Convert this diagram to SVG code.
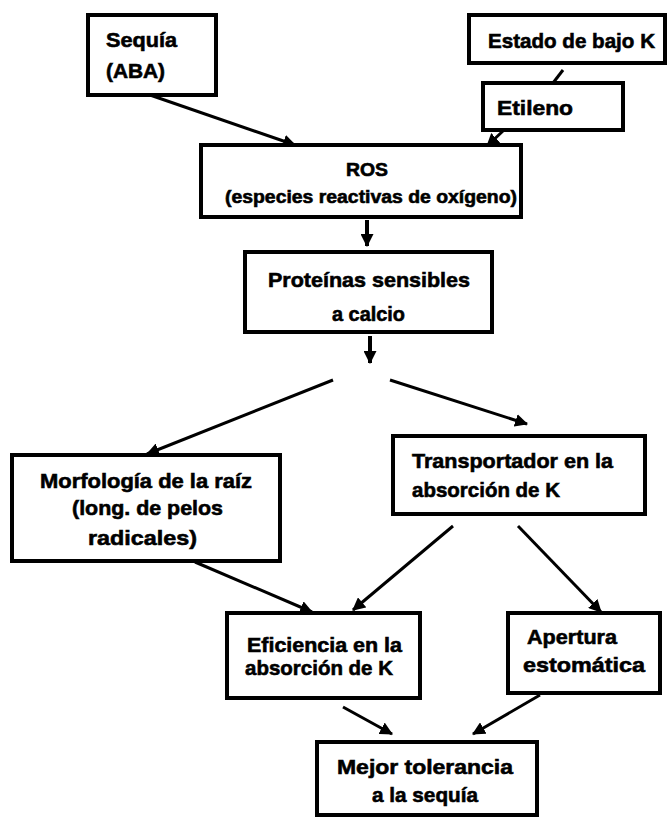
<svg xmlns="http://www.w3.org/2000/svg" width="667" height="817" viewBox="0 0 667 817">
<style>
.box{fill:#fff;stroke:#000;stroke-width:4}
.t{font-family:"Liberation Sans",Arial,sans-serif;font-weight:bold;font-size:21px;fill:#000;stroke:#000;stroke-width:0.6}
.s{font-size:18px}
.c{stroke:#000;stroke-width:3;fill:none}
.v{stroke-width:4}
</style>
<defs>
<marker id="ah" viewBox="0 0 12 12" refX="11" refY="6" markerWidth="13" markerHeight="13" markerUnits="userSpaceOnUse" orient="auto">
<path d="M0,0 L12,6 L0,12 z" fill="#000"/>
</marker>
</defs>
<rect width="667" height="817" fill="#fff"/>
<g id="connectors">
<line class="c" x1="150" y1="95" x2="295" y2="145" marker-end="url(#ah)"/>
<line class="c" x1="563" y1="70" x2="553" y2="83"/>
<line class="c" x1="503" y1="131" x2="487" y2="146" marker-end="url(#ah)"/>
<line class="c v" x1="367" y1="220" x2="367" y2="246" marker-end="url(#ah)"/>
<line class="c v" x1="370" y1="336" x2="370" y2="363" marker-end="url(#ah)"/>
<line class="c" x1="333" y1="380" x2="147" y2="454" marker-end="url(#ah)"/>
<line class="c" x1="390" y1="380" x2="527" y2="424" marker-end="url(#ah)"/>
<line class="c" x1="195" y1="562" x2="312" y2="612" marker-end="url(#ah)"/>
<line class="c" x1="453" y1="526" x2="353" y2="610" marker-end="url(#ah)"/>
<line class="c" x1="518" y1="526" x2="601" y2="612" marker-end="url(#ah)"/>
<line class="c" x1="343" y1="707" x2="392" y2="734" marker-end="url(#ah)"/>
<line class="c" x1="540" y1="695" x2="473" y2="734" marker-end="url(#ah)"/>
</g>
<g id="sequia">
<rect class="box" x="88" y="15" width="128" height="80"/>
<text class="t" x="106" y="47" textLength="71" lengthAdjust="spacingAndGlyphs">Sequía</text>
<text class="t" x="106" y="78" textLength="59" lengthAdjust="spacingAndGlyphs">(ABA)</text>
</g>
<g id="estado">
<rect class="box" x="469" y="15" width="196" height="48"/>
<text class="t" x="488" y="48" textLength="167" lengthAdjust="spacingAndGlyphs">Estado de bajo K</text>
</g>
<g id="etileno">
<rect class="box" x="483" y="83" width="140" height="47"/>
<text class="t" x="497" y="115" textLength="76" lengthAdjust="spacingAndGlyphs">Etileno</text>
</g>
<g id="ros">
<rect class="box" x="201" y="145" width="320" height="72"/>
<text class="t s" x="346" y="176" textLength="42" lengthAdjust="spacingAndGlyphs">ROS</text>
<text class="t s" x="225" y="203" textLength="292" lengthAdjust="spacingAndGlyphs">(especies reactivas de oxígeno)</text>
</g>
<g id="proteinas">
<rect class="box" x="245" y="252" width="247" height="80"/>
<text class="t" x="268" y="287" textLength="202" lengthAdjust="spacingAndGlyphs">Proteínas sensibles</text>
<text class="t" x="332" y="321" textLength="73" lengthAdjust="spacingAndGlyphs">a calcio</text>
</g>
<g id="morfologia">
<rect class="box" x="12" y="455" width="268" height="106"/>
<text class="t" x="40" y="488" textLength="212" lengthAdjust="spacingAndGlyphs">Morfología de la raíz</text>
<text class="t" x="72" y="515" textLength="151" lengthAdjust="spacingAndGlyphs">(long. de pelos</text>
<text class="t" x="88" y="545" textLength="109" lengthAdjust="spacingAndGlyphs">radicales)</text>
</g>
<g id="transportador">
<rect class="box" x="393" y="436" width="252" height="78"/>
<text class="t" x="412" y="468" textLength="201" lengthAdjust="spacingAndGlyphs">Transportador en la</text>
<text class="t" x="412" y="497" textLength="148" lengthAdjust="spacingAndGlyphs">absorción de K</text>
</g>
<g id="eficiencia">
<rect class="box" x="227" y="613" width="193" height="85"/>
<text class="t" x="247" y="652" textLength="155" lengthAdjust="spacingAndGlyphs">Eficiencia en la</text>
<text class="t" x="245" y="675" textLength="148" lengthAdjust="spacingAndGlyphs">absorción de K</text>
</g>
<g id="apertura">
<rect class="box" x="508" y="613" width="152" height="80"/>
<text class="t" x="527" y="644" textLength="90" lengthAdjust="spacingAndGlyphs">Apertura</text>
<text class="t" x="523" y="672" textLength="122" lengthAdjust="spacingAndGlyphs">estomática</text>
</g>
<g id="mejor">
<rect class="box" x="317" y="742" width="220" height="73"/>
<text class="t" x="337" y="774" textLength="176" lengthAdjust="spacingAndGlyphs">Mejor tolerancia</text>
<text class="t" x="372" y="802" textLength="106" lengthAdjust="spacingAndGlyphs">a la sequía</text>
</g>
</svg>
